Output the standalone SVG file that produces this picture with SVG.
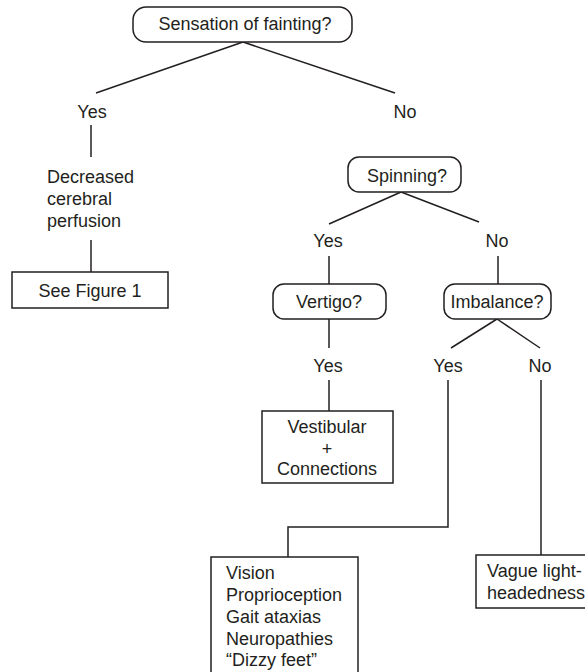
<svg xmlns="http://www.w3.org/2000/svg" width="585" height="672" viewBox="0 0 585 672">
<style>
text{font-family:"Liberation Sans",Arial,sans-serif;font-size:18px;fill:#231f20}
.c{text-anchor:middle}
.box{fill:#fff;stroke:#231f20;stroke-width:1.5}
#connectors line,#connectors polyline{stroke:#231f20;stroke-width:1.5;fill:none}
</style>
<rect width="585" height="672" fill="#fff"/>
<g id="connectors">
<line x1="243" y1="42" x2="96" y2="93"/>
<line x1="243" y1="42" x2="395" y2="93"/>
<line x1="91" y1="125" x2="91" y2="157"/>
<line x1="91" y1="240" x2="91" y2="272"/>
<line x1="401" y1="192" x2="329" y2="224"/>
<line x1="401" y1="192" x2="479" y2="222"/>
<line x1="329" y1="256" x2="329" y2="284"/>
<line x1="498" y1="256" x2="498" y2="284"/>
<line x1="329" y1="319" x2="329" y2="348"/>
<line x1="497" y1="319" x2="451" y2="348"/>
<line x1="497" y1="319" x2="540" y2="348"/>
<line x1="329" y1="380" x2="329" y2="411"/>
<polyline points="448,380 448,527 288,527 288,557"/>
<line x1="541" y1="380" x2="541" y2="555"/>
</g>
<g id="n-fainting"><rect class="box" x="133" y="7" width="219" height="35" rx="13"/><text class="c" x="245" y="30">Sensation of fainting?</text></g>
<g id="l-yes1"><text class="c" x="92" y="118">Yes</text></g>
<g id="l-no1"><text class="c" x="405" y="118">No</text></g>
<g id="n-decreased"><text x="47" y="183">Decreased</text><text x="47" y="205">cerebral</text><text x="47" y="227">perfusion</text></g>
<g id="n-figure1"><rect class="box" x="12" y="272" width="156" height="36"/><text class="c" x="90" y="297">See Figure 1</text></g>
<g id="n-spinning"><rect class="box" x="348" y="157" width="113" height="35" rx="11"/><text class="c" x="407" y="182">Spinning?</text></g>
<g id="l-yes2"><text class="c" x="328" y="247">Yes</text></g>
<g id="l-no2"><text class="c" x="497" y="247">No</text></g>
<g id="n-vertigo"><rect class="box" x="273" y="284" width="113" height="35" rx="11"/><text class="c" x="329" y="308">Vertigo?</text></g>
<g id="n-imbalance"><rect class="box" x="444" y="284" width="107" height="35" rx="11"/><text class="c" x="497" y="308">Imbalance?</text></g>
<g id="l-yes3"><text class="c" x="328" y="372">Yes</text></g>
<g id="l-yes4"><text class="c" x="448" y="372">Yes</text></g>
<g id="l-no4"><text class="c" x="540" y="372">No</text></g>
<g id="n-vestibular"><rect class="box" x="262" y="411" width="131" height="72"/><text class="c" x="327" y="433">Vestibular</text><text class="c" x="327" y="455">+</text><text class="c" x="327" y="475">Connections</text></g>
<g id="n-vision"><rect class="box" x="211" y="557" width="147" height="130"/><text x="226" y="579">Vision</text><text x="226" y="601">Proprioception</text><text x="226" y="623">Gait ataxias</text><text x="226" y="645">Neuropathies</text><text x="226" y="666">“Dizzy feet”</text></g>
<g id="n-vague"><rect class="box" x="476" y="555" width="120" height="53"/><text x="487" y="577">Vague light-</text><text x="487" y="599">headedness</text></g>
</svg>
